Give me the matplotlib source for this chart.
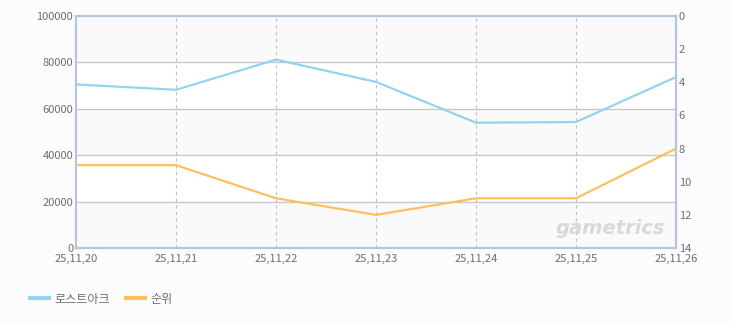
import matplotlib
matplotlib.use("Agg")
import matplotlib.pyplot as plt
from matplotlib.lines import Line2D

plt.rcParams['font.family'] = ['Noto Sans CJK KR', 'DejaVu Sans']

dates = ["25,11,20", "25,11,21", "25,11,22", "25,11,23", "25,11,24", "25,11,25", "25,11,26"]
players = [70500, 68200, 81200, 71600, 54000, 54300, 73700]
rank = [9, 9, 11, 12, 11, 11, 8]
series_names = ["로스트아크", "순위"]

blue = "#94d3f2"
orange = "#ffbf5e"
tick_color = "#6e6e6e"
spine_color = "#b4c6d8"

fig = plt.figure(figsize=(7.3, 3.25), dpi=100, facecolor="#fcfcfc")
ax = fig.add_axes([76/730, 1-248/325, 600/730, 232/325])
ax.set_facecolor("white")
x = list(range(len(dates)))

# alternating bands
for i, lo in enumerate(range(0, 100000, 20000)):
    if i % 2 == 0:
        ax.axhspan(lo, lo + 20000, color="#fafafa", zorder=0, lw=0)

ax.set_xlim(0, len(dates) - 1)
ax.set_ylim(0, 100000)
ax.set_yticks(range(0, 100001, 20000))
ax.set_xticks(x)
ax.set_xticklabels(dates)
for y in range(20000, 100000, 20000):
    ax.axhline(y, color="#c8c8c8", lw=1, zorder=1)
for xi in x[1:-1]:
    ax.axvline(xi, color="#c0c0c0", lw=0.8, ls=(0, (3, 3)), zorder=1)

ax.plot(x, players, color=blue, lw=1.6, zorder=3)

ax2 = ax.twinx()
ax2.set_ylim(14, 0)
ax2.set_yticks(range(0, 15, 2))
ax2.plot(x, rank, color=orange, lw=1.6, zorder=3)

for a in (ax, ax2):
    for s in a.spines.values():
        s.set_color(spine_color)
        s.set_linewidth(1.5)
    a.tick_params(length=0, labelsize=8, colors=tick_color, pad=2)
ax.tick_params(axis="x", pad=4)
for lab in ax.get_yticklabels():
    lab.set_verticalalignment("center_baseline")

ax.text(0.982, 0.045, "gametrics", transform=ax.transAxes, ha="right", va="bottom",
        fontsize=14, fontweight="bold", style="italic", color="#d9d9d9",
        family="DejaVu Sans", zorder=2)

handles = [Line2D([], [], color=blue, lw=3), Line2D([], [], color=orange, lw=3)]
fig.legend(handles, series_names, loc="center left", bbox_to_anchor=(30/730, 1-299/325),
           frameon=False, ncol=2, fontsize=8.7, handlelength=1.6, handletextpad=0.45,
           columnspacing=1.3, labelcolor=tick_color, borderaxespad=0, borderpad=0)

fig.savefig("out.png", dpi=100, facecolor=fig.get_facecolor())
